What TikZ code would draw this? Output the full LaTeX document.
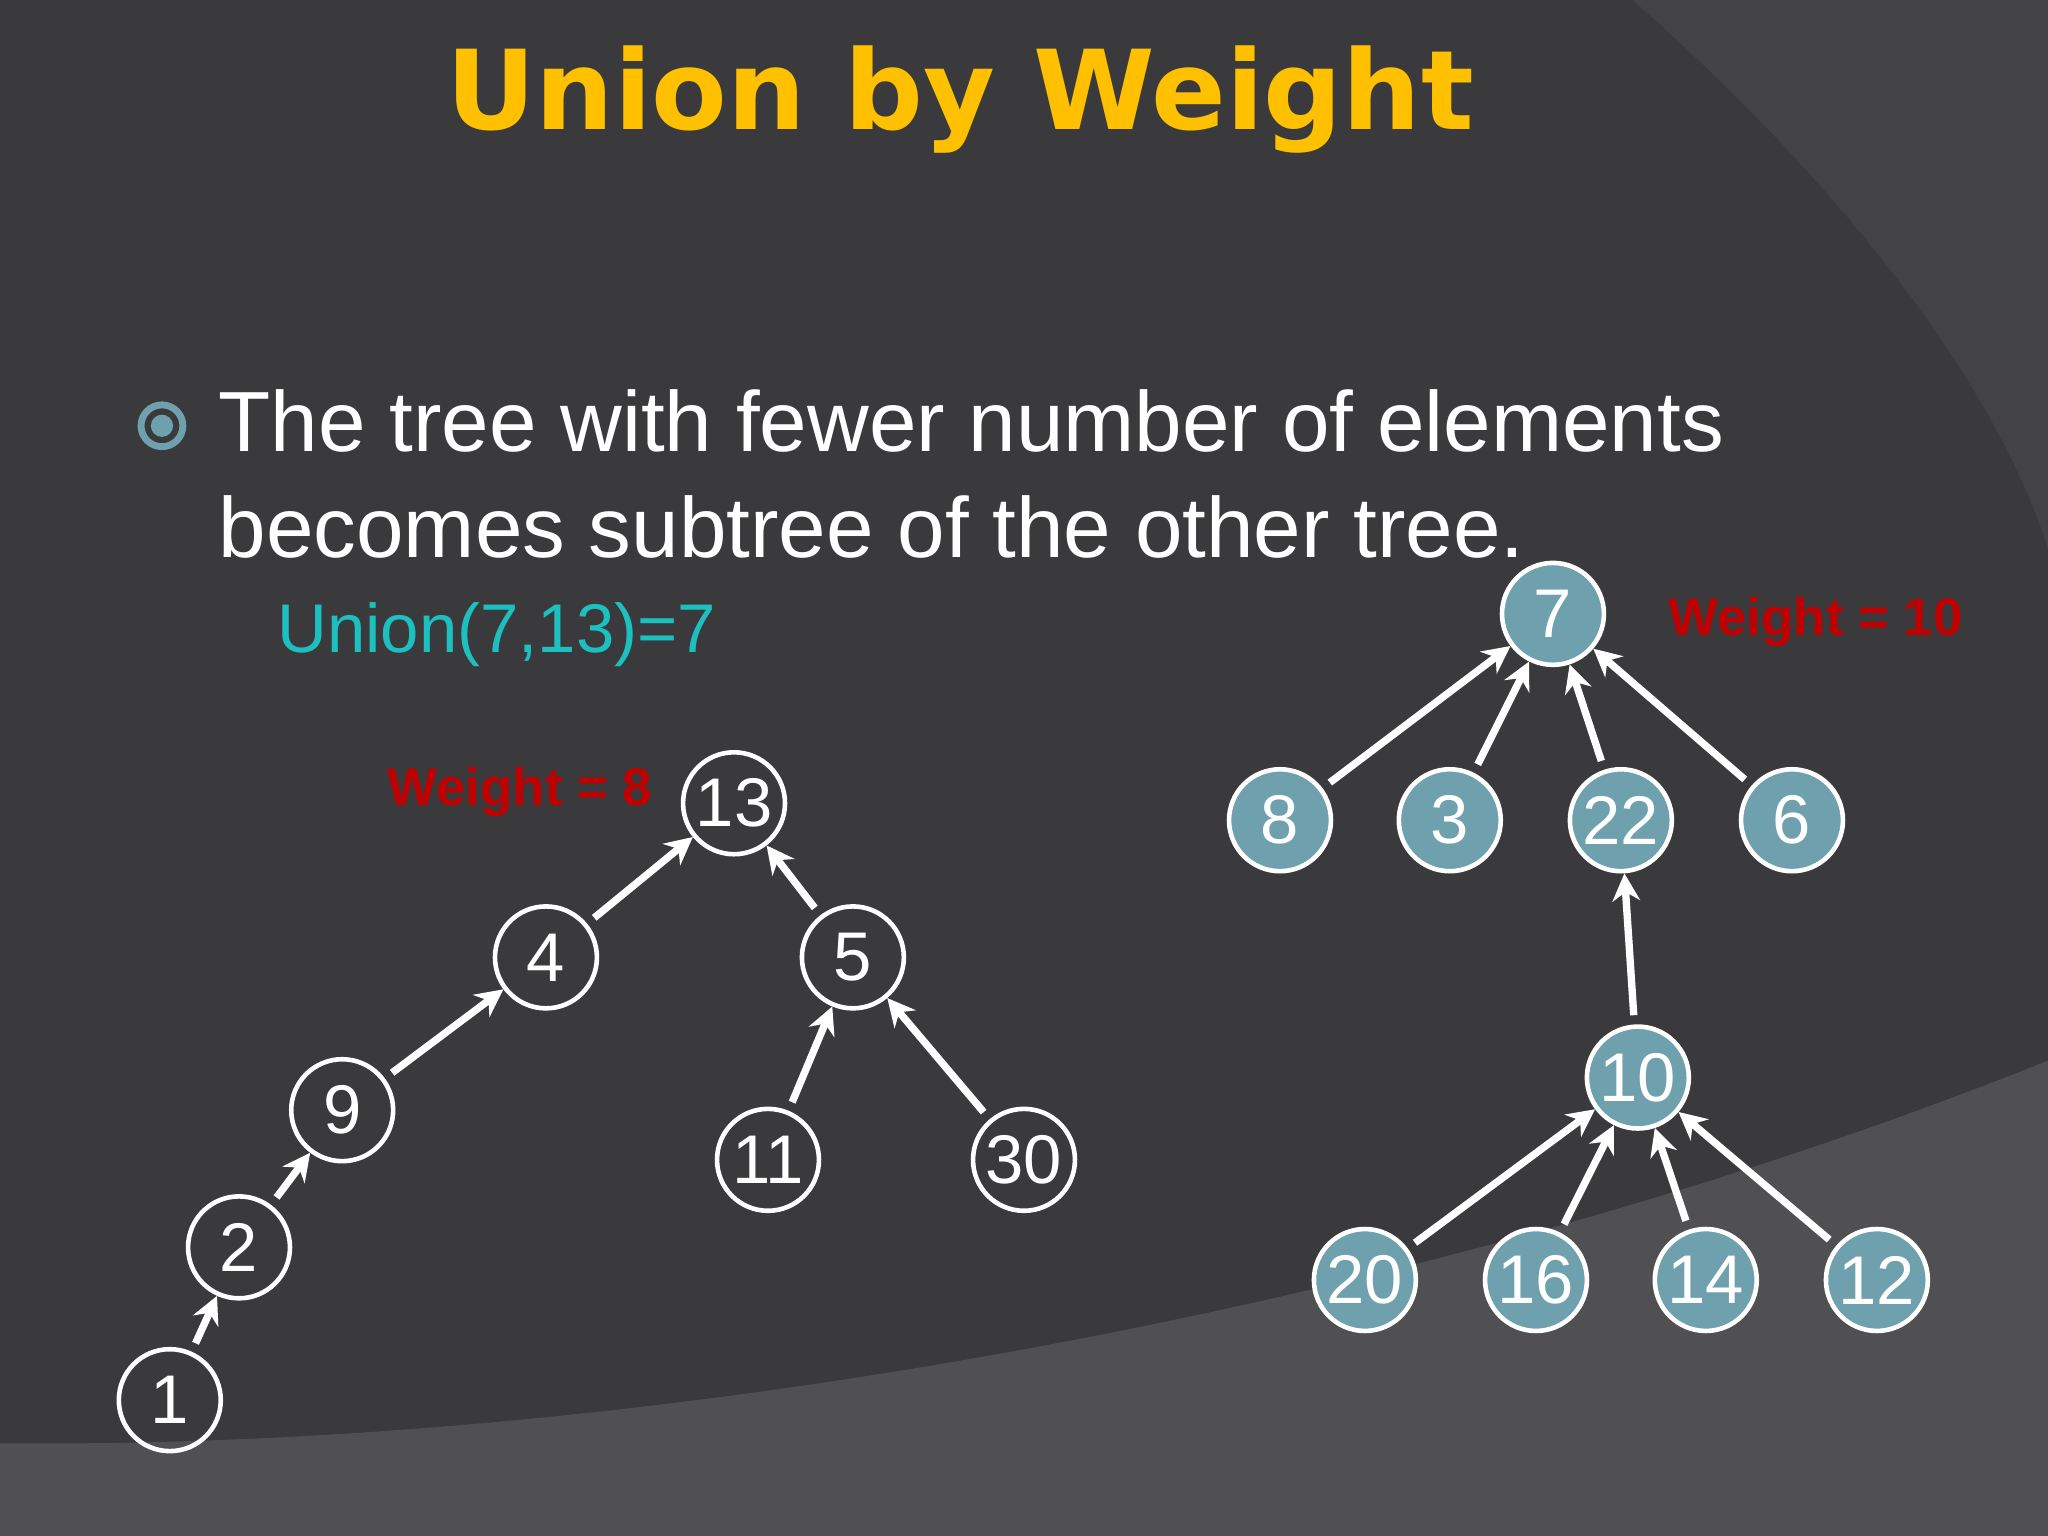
\documentclass[tikz,border=0pt]{standalone}
\usepackage{fontspec}
\setmainfont{Liberation Sans}
\newfontfamily\titlefont{DejaVu Sans}
\usetikzlibrary{arrows.meta}
\definecolor{bg}{HTML}{3A3A3C}
\definecolor{bgl}{HTML}{434345}
\definecolor{bgb}{HTML}{505052}
\definecolor{nodefill}{HTML}{6FA0AD}
\definecolor{titlecol}{HTML}{FFC000}
\definecolor{wred}{HTML}{C00000}
\definecolor{teal}{HTML}{1CC0C0}
\tikzset{
  x=0.01cm,y=-0.01cm,
  dnode/.style={circle,draw=white,line width=1pt,minimum size=0.78cm,inner sep=0pt,text=white,font=\fontsize{15}{15}\selectfont},
  lnode/.style={dnode,fill=nodefill},
  edge/.style={draw=white,line width=1.6pt,-{Stealth[length=6pt,width=6pt]},shorten <=2pt},
  wlabel/.style={text=wred,font=\bfseries\fontsize{11.5}{12}\selectfont}
}
\begin{document}
\begin{tikzpicture}
\fill[bg] (0,0) rectangle (1568,1176);
\useasboundingbox (0,0) rectangle (1568,1176);
\fill[bgl] (1250,0) .. controls (1420,150) and (1530,300) .. (1568,420) -- (1568,0) -- cycle;
\fill[bgb] (0,1105) .. controls (500,1110) and (1100,1000) .. (1568,812) -- (1568,1176) -- (0,1176) -- cycle;
\node[text=titlecol,font=\titlefont\bfseries\fontsize{24}{24}\selectfont] (title) at (735,76) {Union by Weight};
\draw[nodefill,line width=1.5pt] (124,326) circle (0.16cm);
\fill[nodefill] (124,326) circle (0.085cm);
\node[anchor=west,text=white,font=\fontsize{18.6}{23}\selectfont,align=left] (body) at (155,363) {The tree with fewer number of elements\\becomes subtree of the other tree.};
\node[anchor=west,text=teal,font=\fontsize{15}{15}\selectfont] (union) at (200,486) {Union(7,13)=7};
% left tree
\node[dnode] (n13) at (562,615) {13};
\node[dnode] (n4) at (418,733) {4};
\node[dnode] (n5) at (653,733) {5};
\node[dnode] (n9) at (262,850) {9};
\node[dnode] (n11) at (588,888) {11};
\node[dnode] (n30) at (784,888) {30};
\node[dnode] (n2) at (183,955) {2};
\node[dnode] (n1) at (130,1072) {1};
\node[wlabel] (w8) at (398,606) {Weight = 8};
\draw[edge] (n4) -- (n13);
\draw[edge] (n5) -- (n13);
\draw[edge] (n9) -- (n4);
\draw[edge] (n11) -- (n5);
\draw[edge] (n30) -- (n5);
\draw[edge] (n2) -- (n9);
\draw[edge] (n1) -- (n2);
% right tree
\node[lnode] (n7) at (1189,470) {7};
\node[lnode] (n8) at (980,628) {8};
\node[lnode] (n3) at (1110,628) {3};
\node[lnode] (n22) at (1241,628) {22};
\node[lnode] (n6) at (1372,628) {6};
\node[lnode] (n10) at (1254,825) {10};
\node[lnode] (n20) at (1045,980) {20};
\node[lnode] (n16) at (1176,980) {16};
\node[lnode] (n14) at (1306,980) {14};
\node[lnode] (n12) at (1437,980) {12};
\node[wlabel] (w10) at (1390,476) {Weight = 10};
\draw[edge] (n8) -- (n7);
\draw[edge] (n3) -- (n7);
\draw[edge] (n22) -- (n7);
\draw[edge] (n6) -- (n7);
\draw[edge] (n10) -- (n22);
\draw[edge] (n20) -- (n10);
\draw[edge] (n16) -- (n10);
\draw[edge] (n14) -- (n10);
\draw[edge] (n12) -- (n10);
\end{tikzpicture}
\end{document}
